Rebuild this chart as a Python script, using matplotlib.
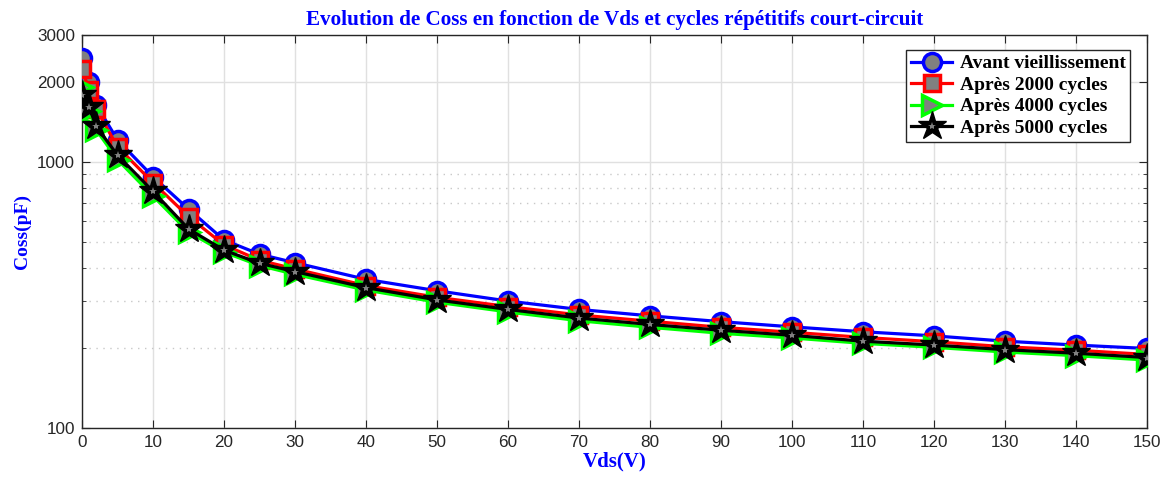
import matplotlib
matplotlib.use("Agg")
import matplotlib.pyplot as plt
from matplotlib.ticker import FixedLocator, NullFormatter
from matplotlib.legend_handler import HandlerTuple

vds = [0, 1, 2, 5, 10, 15, 20, 25, 30, 40, 50, 60, 70, 80, 90, 100, 110, 120, 130, 140, 150]
coss_avant = [2450, 2000, 1640, 1210, 880, 665, 509, 450, 418, 362, 328, 300, 279, 264, 251, 240, 230, 222, 212, 205, 199]
coss_2000 = [2230, 1870, 1580, 1140, 836, 623, 488, 427, 396, 343, 310, 286, 266, 252, 239, 229, 219, 211, 202, 196, 189]
coss_4000 = [1920, 1560, 1320, 1020, 745, 545, 458, 408, 378, 330, 297, 273, 253, 239, 227, 218, 208, 201, 193, 187, 180]
coss_5000 = [1790, 1610, 1360, 1060, 775, 560, 466, 416, 387, 337, 303, 279, 259, 245, 233, 223, 212, 205, 197, 191, 184]

labels = ["Avant vieillissement", "Après 2000 cycles", "Après 4000 cycles", "Après 5000 cycles"]

xticks = list(range(0, 151, 10))
yticks = [100, 1000, 2000, 3000]
yminor = [200, 300, 400, 500, 600, 700, 800, 900]

plt.rcParams["font.family"] = ["Liberation Sans", "DejaVu Sans"]

fig = plt.figure(figsize=(11.67, 4.8), dpi=100)
ax = fig.add_axes([82/1167, 1-428/480, (1147-82)/1167, (428-35)/480])

lw = 2.3
gray = "#808080"
h1, = ax.plot(vds, coss_avant, color="blue", lw=lw, marker="o", ms=13, mfc=gray, mec="blue", mew=2.5, zorder=3)
h2, = ax.plot(vds, coss_2000, color="red", lw=lw, marker="s", ms=11, mfc=gray, mec="red", mew=2.5, zorder=4)
h3, = ax.plot(vds, coss_4000, color="#00ff00", lw=lw, marker=">", ms=14, mfc=gray, mec="#00ff00", mew=2.5, zorder=5)
h4, = ax.plot(vds, coss_5000, color="black", lw=lw, marker="*", ms=21, mfc="black", mec="black", mew=1, zorder=6)
h4b, = ax.plot(vds, coss_5000, ls="none", marker="*", ms=6, mfc=gray, mec=gray, mew=0, zorder=7)

ax.set_yscale("log")
ax.set_xlim(0, 150)
ax.set_ylim(100, 3000)
ax.set_xticks(xticks)
ax.yaxis.set_major_locator(FixedLocator(yticks))
ax.yaxis.set_minor_locator(FixedLocator(yminor))
ax.yaxis.set_minor_formatter(NullFormatter())
ax.set_yticklabels([str(v) for v in yticks])

ax.grid(True, which="major", color="#e0e0e0", lw=1, ls="-", zorder=0)
ax.grid(True, which="minor", axis="y", color="#c8c8c8", lw=1, ls=(0, (1, 4)), zorder=0)
ax.set_axisbelow(True)

ax.tick_params(which="both", direction="in", top=True, right=True, colors="#262626",
               labelsize=12.3, labelcolor="#262626")
ax.tick_params(which="major", length=6, pad=5)
ax.tick_params(which="minor", length=3)
for s in ax.spines.values():
    s.set_color("#262626")
    s.set_linewidth(1)

serif = ["Liberation Serif", "DejaVu Serif"]
ax.set_title("Evolution de Coss en fonction de Vds et cycles répétitifs court-circuit",
             color="blue", fontweight="bold", family=serif, fontsize=15.2, pad=7)
ax.set_xlabel("Vds(V)", color="blue", fontweight="bold", family=serif, fontsize=15, labelpad=1)
ax.set_ylabel("Coss(pF)", color="blue", fontweight="bold", family=serif, fontsize=14, labelpad=4)

leg = ax.legend([h1, h2, h3, (h4, h4b)], labels, handler_map={tuple: HandlerTuple(ndivide=1, pad=0)},
                loc="upper right", bbox_to_anchor=(0.9845, 0.962), frameon=True, fancybox=False,
                prop={"family": serif, "weight": "bold", "size": 14}, handlelength=2.1,
                borderpad=0.25, labelspacing=0.2, handletextpad=0.4, borderaxespad=0)
leg.get_frame().set_edgecolor("#262626")
leg.get_frame().set_linewidth(1)
leg.get_frame().set_alpha(1)

fig.savefig("out.png", dpi=100)
